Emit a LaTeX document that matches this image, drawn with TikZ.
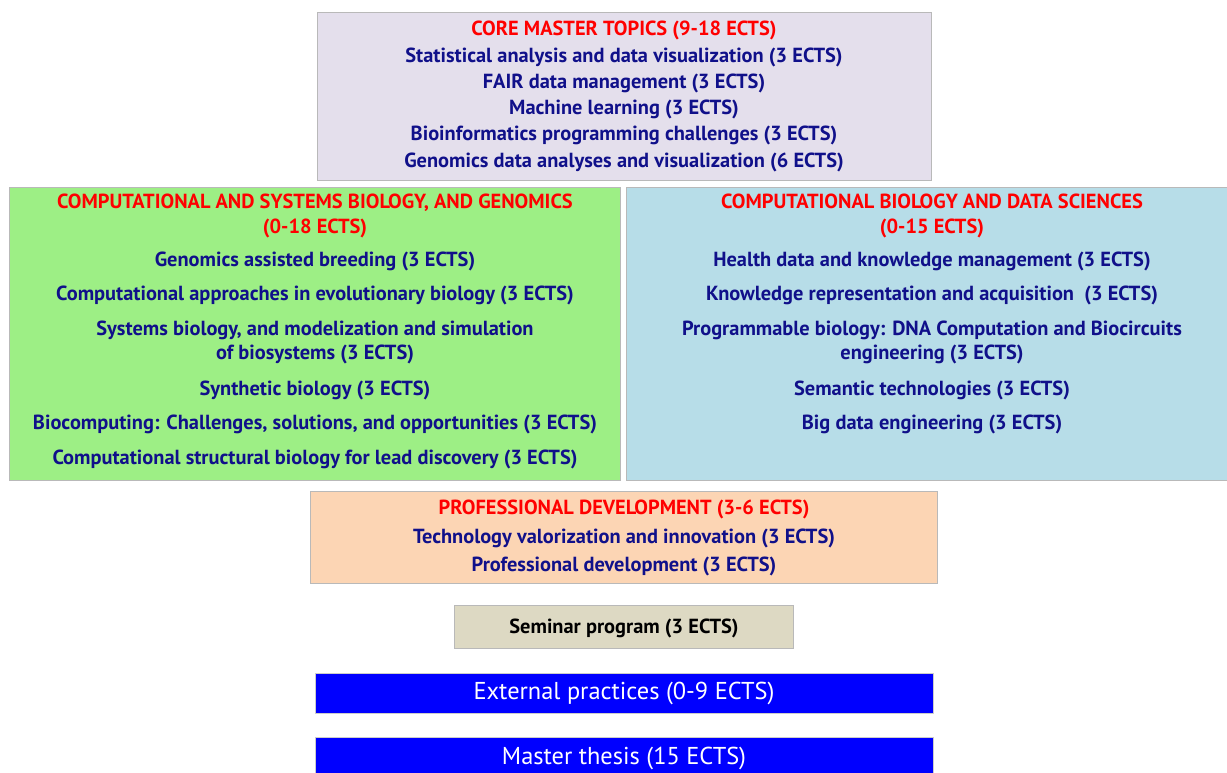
\documentclass[tikz,border=0pt]{standalone}
\usepackage{fontspec}
\setmainfont{PT Sans}
\usetikzlibrary{fit, positioning}

\definecolor{corefill}{HTML}{E4DFEC}
\definecolor{greenfill}{HTML}{9DEF85}
\definecolor{bluefill}{HTML}{B7DDE8}
\definecolor{profill}{HTML}{FCD5B4}
\definecolor{semfill}{HTML}{DDD9C3}
\definecolor{itemblue}{HTML}{10108A}

\tikzset{
  box/.style={draw=gray!55, line width=0.6pt, inner sep=0pt},
  title/.style={text=red, align=center, font=\bfseries\fontsize{15.3}{18.7}\selectfont},
  item/.style={text=itemblue, align=center, font=\bfseries\fontsize{15.3}{18}\selectfont},
  bar/.style={box, fill=blue, draw=gray!40},
  bartext/.style={text=white, font=\fontsize{18.3}{21}\selectfont},
}

\begin{document}
\begin{tikzpicture}[x=0.75pt, y=-0.75pt]
\useasboundingbox (0,0) rectangle (1227,772);
\clip (0,0) rectangle (1227,772);

% boxes
\node[box, fill=corefill, fit={(317,12) (931,180)}] (core) {};
\node[box, fill=greenfill, fit={(9,187) (620,480)}] (csbg) {};
\node[box, fill=bluefill, fit={(626,187) (1230,480)}] (cbds) {};
\node[box, fill=profill, fit={(310,491) (937,583)}] (prof) {};
\node[box, fill=semfill, fit={(454,605) (793,648)}] (sem) {};
\node[bar, fit={(315,673) (933,713)}] (ext) {};
\node[bar, fit={(315,737) (933,780)}] (thesis) {};

% core topics
\node[title] (coreT) at (624,30) {CORE MASTER TOPICS (9-18 ECTS)};
\foreach \y/\txt [count=\i] in {
  57/Statistical analysis and data visualization (3 ECTS),
  83/FAIR data management (3 ECTS),
  109/Machine learning (3 ECTS),
  135/Bioinformatics programming challenges (3 ECTS),
  162/Genomics data analyses and visualization (6 ECTS)}
  \node[item] (core\i) at (624,\y) {\txt};

% computational and systems biology
\node[title] (csbgT) at (315,215.5) {COMPUTATIONAL AND SYSTEMS BIOLOGY, AND GENOMICS\\(0-18 ECTS)};
\foreach \y/\txt [count=\i] in {
  261/Genomics assisted breeding (3 ECTS),
  295/Computational approaches in evolutionary biology (3 ECTS),
  342/{Systems biology, and modelization and simulation\\of biosystems (3 ECTS)},
  390/Synthetic biology (3 ECTS),
  424/{Biocomputing: Challenges, solutions, and opportunities (3 ECTS)},
  459/Computational structural biology for lead discovery (3 ECTS)}
  \node[item] (csbg\i) at (315,\y) {\txt};

% computational biology and data sciences
\node[title] (cbdsT) at (932,215.5) {COMPUTATIONAL BIOLOGY AND DATA SCIENCES\\(0-15 ECTS)};
\foreach \y/\txt [count=\i] in {
  261/Health data and knowledge management (3 ECTS),
  295/Knowledge representation and acquisition~~(3 ECTS),
  342/{Programmable biology: DNA Computation and Biocircuits\\engineering (3 ECTS)},
  390/Semantic technologies (3 ECTS),
  424/Big data engineering (3 ECTS)}
  \node[item] (cbds\i) at (932,\y) {\txt};

% professional development
\node[title] (profT) at (624,509) {PROFESSIONAL DEVELOPMENT (3-6 ECTS)};
\node[item] (prof1) at (624,538) {Technology valorization and innovation (3 ECTS)};
\node[item] (prof2) at (624,566) {Professional development (3 ECTS)};

% seminar, practices, thesis
\node[item, text=black] (semT) at (624,628) {Seminar program (3 ECTS)};
\node[bartext] (extT) at (624,693) {External practices (0-9 ECTS)};
\node[bartext] (thesisT) at (624,758) {Master thesis (15 ECTS)};
\end{tikzpicture}
\end{document}
